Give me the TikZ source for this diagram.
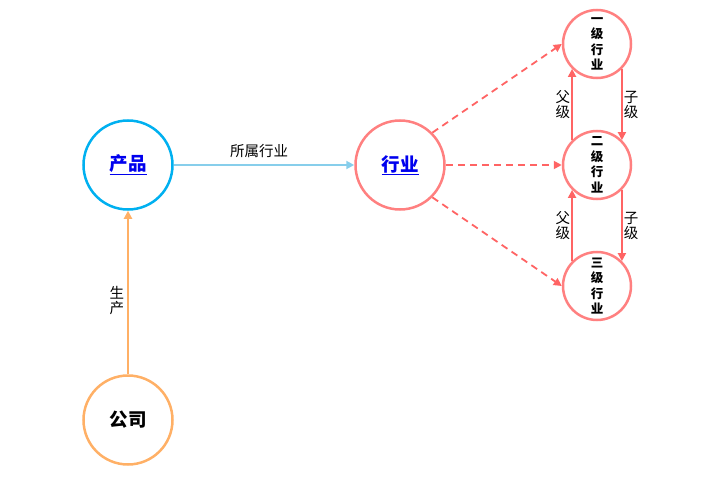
\documentclass[tikz,border=0pt]{standalone}
\usepackage{fontspec}
\setmainfont{Noto Sans CJK SC}
\usetikzlibrary{arrows.meta}
\definecolor{prodblue}{RGB}{0,176,240}
\definecolor{edgeblue}{RGB}{135,206,235}
\definecolor{comporange}{RGB}{255,176,102}
\definecolor{indsalmon}{RGB}{255,128,128}
\definecolor{levelred}{RGB}{255,100,100}
\definecolor{linkblue}{RGB}{0,0,238}

\begin{document}
\begin{tikzpicture}[x=1pt,y=-1pt,>={Triangle[length=8pt,width=8pt]},font=\fontsize{14.5}{15}\selectfont]
\tikzstyle{bigcirc}=[circle,draw,line width=2.5pt,minimum size=89pt,inner sep=0pt,align=center]
\tikzstyle{levelcirc}=[circle,draw=indsalmon,fill=white,line width=2.5pt,minimum size=68pt,inner sep=0pt,align=center,font=\fontsize{12.5}{15.5}\selectfont\bfseries]
\tikzstyle{linktext}=[text=linkblue,font=\fontsize{18.5}{20}\selectfont\bfseries]
\tikzstyle{levelarrow}=[->,draw=levelred,line width=2pt]
\tikzstyle{dasharrow}=[->,draw=levelred,line width=1.8pt,dash pattern=on 7pt off 5pt]
\useasboundingbox (0,0) rectangle (726,484);

\node[bigcirc,draw=prodblue,linktext] (prod) at (128,165) {\underline{产品}};
\node[bigcirc,draw=indsalmon,linktext] (ind) at (400,165) {\underline{行业}};
\node[bigcirc,draw=comporange,font=\fontsize{18.5}{20}\selectfont\bfseries] (comp) at (128,420) {公司};

\node[levelcirc] (lvone) at (597,44) {一\\级\\行\\业};
\node[levelcirc] (lvtwo) at (597,165) {二\\级\\行\\业};
\node[levelcirc] (lvthree) at (597,286) {三\\级\\行\\业};

\draw[->,draw=edgeblue,line width=2pt] (prod) -- node[above=3pt,xshift=-5pt] {所属行业} (ind);
\draw[->,draw=comporange,line width=2pt] (comp) -- node[pos=0.45,left,align=center,inner sep=3pt] {生\\产} (prod);

\draw[dasharrow] (ind.45) -- (lvone.west);
\draw[dasharrow] (ind.east) -- (lvtwo.west);
\draw[dasharrow] (ind.-45) -- (lvthree.west);

\draw[levelarrow] (lvtwo.135) -- node[left,align=center,inner sep=1pt] {父\\级} (lvone.225);
\draw[levelarrow] (lvone.-45) -- node[right,align=center,inner sep=1pt] {子\\级} (lvtwo.45);
\draw[levelarrow] (lvthree.135) -- node[left,align=center,inner sep=1pt] {父\\级} (lvtwo.225);
\draw[levelarrow] (lvtwo.-45) -- node[right,align=center,inner sep=1pt] {子\\级} (lvthree.45);
\end{tikzpicture}
\end{document}
